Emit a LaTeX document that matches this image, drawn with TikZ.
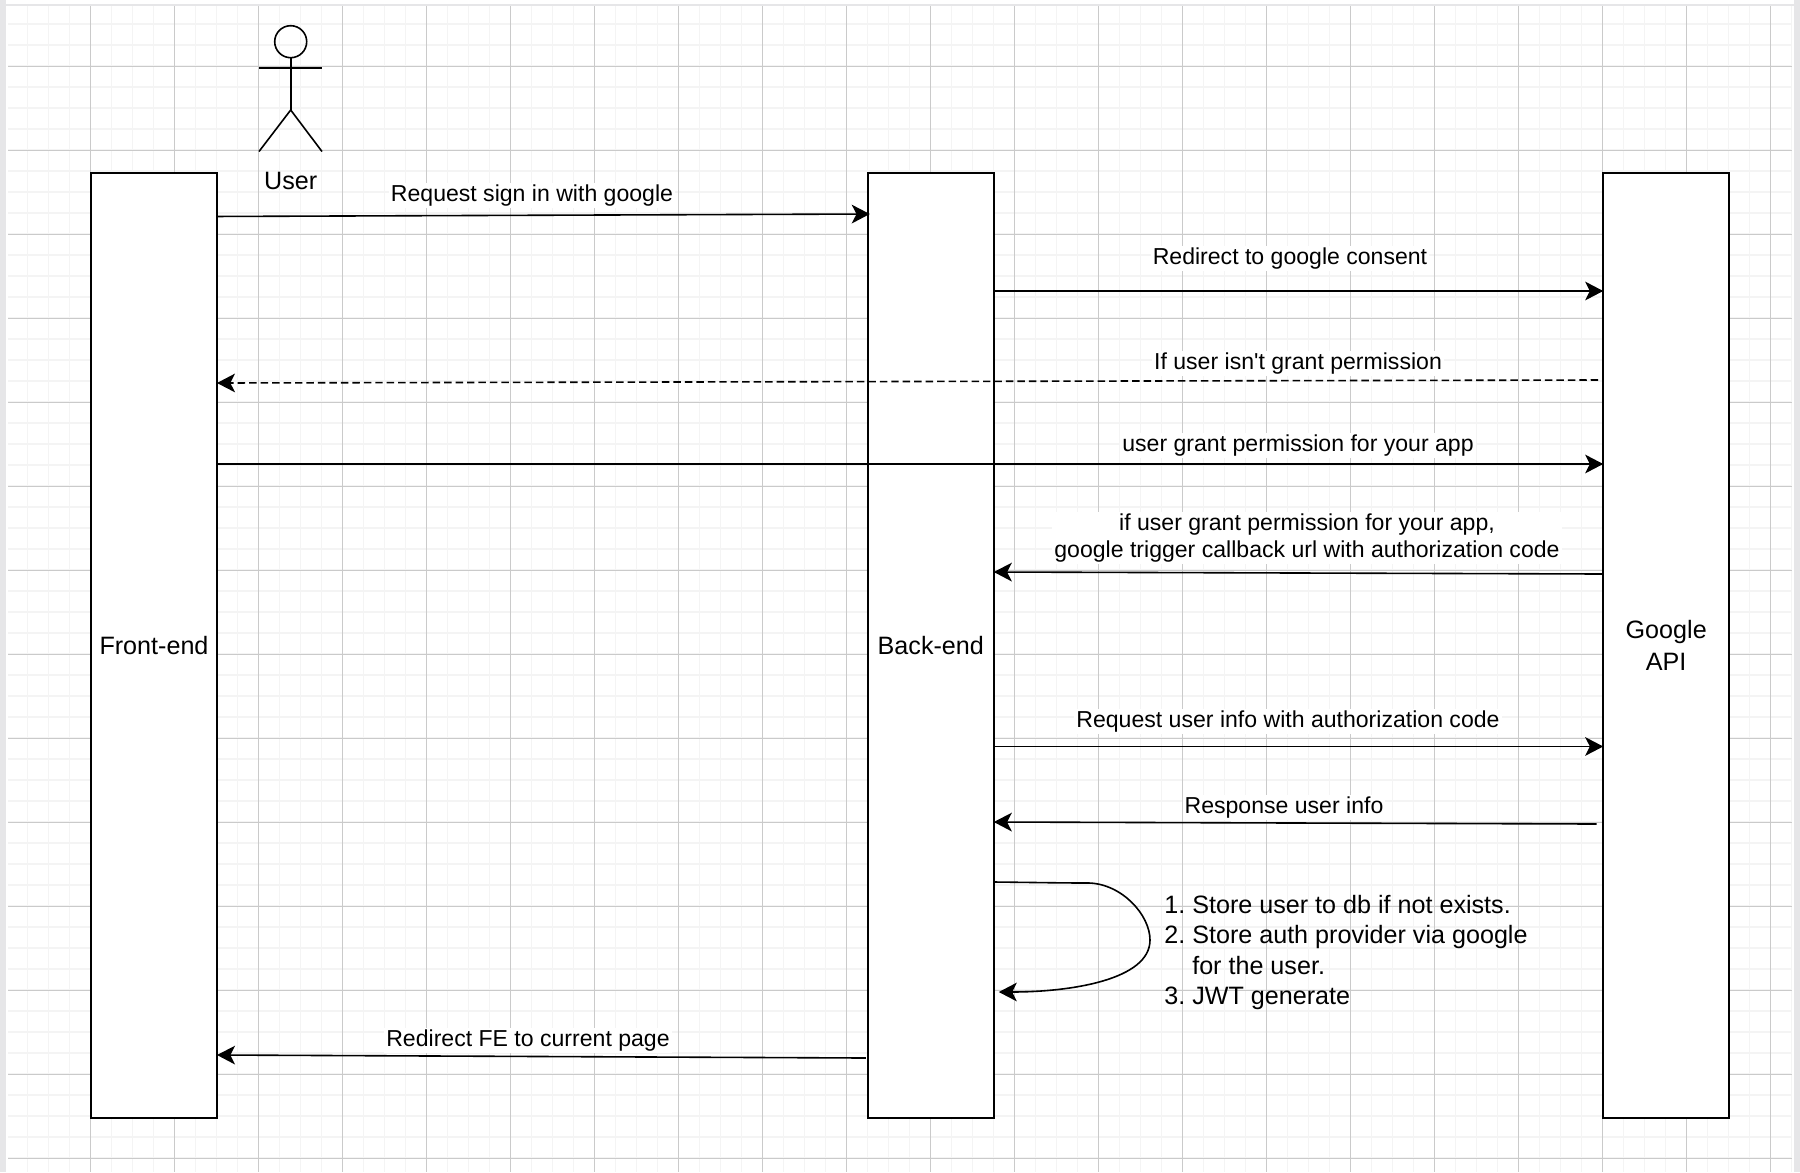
\documentclass[tikz,border=0pt]{standalone}
\usepackage{fontspec}
\setmainfont{Liberation Sans}
\usetikzlibrary{arrows.meta}

\definecolor{gridmajor}{RGB}{202,202,202}
\definecolor{gridminor}{RGB}{244,244,244}
\definecolor{pageedge}{RGB}{230,230,232}

\tikzset{
  lifebox/.style={draw=black,line width=1.25pt,fill=white,inner sep=0pt,outer sep=0pt,minimum width=94.5pt,minimum height=708.75pt,align=center,font=\fontsize{18.85}{23.8}\selectfont},
  flow/.style={draw=black,line width=1.2pt,-{Stealth[length=13.5pt,width=14pt,inset=3.5pt]}},
  flowdash/.style={flow,dash pattern=on 5.6pt off 3pt},
  flowlabel/.style={fill=white,inner sep=1.5pt,align=center,font=\fontsize{17.3}{20.3}\selectfont},
  notetext/.style={inner sep=0pt,align=left,font=\fontsize{18.85}{22.7}\selectfont},
  stickman/.style={draw=black,line width=1.2pt}
}

\begin{document}
\begin{tikzpicture}[x=0.75pt,y=0.75pt,yscale=-1,xscale=1]
        \useasboundingbox (0,0) rectangle (1800,1172);
        
        %Shape: Grid, minor lines
        \foreach \gx in {27.5,48.5,...,1791.5} \draw [gridminor,line width=1.1pt] (\gx,6) -- (\gx,1172);
        \foreach \gy in {24,45,...,1172} \draw [gridminor,line width=1.1pt] (8,\gy) -- (1792,\gy);
        %Shape: Grid, major lines
        \foreach \gx in {90.5,174.5,...,1770.5} \draw [gridmajor,line width=0.75pt] (\gx,6) -- (\gx,1172);
        \foreach \gy in {66,150,...,1158} \draw [gridmajor,line width=0.75pt] (8,\gy) -- (1792,\gy);
        %Shape: Page edges
        \fill [pageedge] (0,4) rectangle (1800,6);
        \fill [pageedge] (0,0) rectangle (5.5,1172);
        \fill [pageedge] (1794,0) rectangle (1800,1172);
        
        %Shape: Actor
        \draw [stickman] (290.7,41.7) circle (16);
        \draw [stickman] (290.7,57.7) -- (290.7,110);
        \draw [stickman] (259,68) -- (322,68);
        \draw [stickman] (259,151.5) -- (290.7,110) -- (322,151.5);
        % Text Node
        \node (userlabel) at (290.7,181) [inner sep=0pt,font=\fontsize{18.85}{23.8}\selectfont] {User};
        
        %Shape: Rectangle
        \node (frontend) at (154,645.5) [lifebox] {Front-end};
        \node (backend) at (930.8,645.5) [lifebox] {Back-end};
        \node (googleapi) at (1666.2,645.5) [lifebox] {Google\\API};
        
        %Straight Lines
        \draw [flow] ([yshift=32.6pt]frontend.north east) -- ([xshift=1.5pt,yshift=30.75pt]backend.north west);
        \draw [flow] ([yshift=88.5pt]backend.north east) -- ([yshift=88.5pt]googleapi.north west);
        \draw [flowdash] ([xshift=-3.75pt,yshift=155.25pt]googleapi.north west) -- ([yshift=157.5pt]frontend.north east);
        \draw [flow] ([yshift=218.25pt]frontend.north east) -- ([yshift=218.25pt]googleapi.north west);
        \draw [flow] ([yshift=300.75pt]googleapi.north west) -- ([yshift=299.25pt]backend.north east);
        \draw [flow] ([yshift=430.1pt]backend.north east) -- ([yshift=430.1pt]googleapi.north west);
        \draw [flow] ([xshift=-5pt,yshift=488.25pt]googleapi.north west) -- ([yshift=486.75pt]backend.north east);
        \draw [flow] ([xshift=-1.5pt,yshift=663.75pt]backend.north west) -- ([yshift=661.5pt]frontend.north east);
        
        %Curve Lines
        \coordinate (loopbend) at (1150,940);
        \draw [flow] ([yshift=531.75pt]backend.north east) .. controls (1040,882.5) and (1060,883) .. (1089,883) .. controls (1122,884) and (1150,915) .. (loopbend) .. controls (1150,980) and (1070,992) .. ([xshift=3.75pt,yshift=614.25pt]backend.north east);
        
        % Text Node
        \node (reqlabel) at (532,195.3) [flowlabel] {Request sign in with google};
        % Text Node
        \node (consentlabel) at (1290,258.3) [flowlabel] {Redirect to google consent};
        % Text Node
        \node (denylabel) at (1298,363.3) [flowlabel] {If user isn\textquotesingle t grant permission};
        % Text Node
        \node (grantlabel) at (1298,445.3) [flowlabel] {user grant permission for your app};
        % Text Node
        \node (callbacklabel) at (1307,538) [flowlabel] {if user grant permission for your app,\\google trigger callback url with authorization code};
        % Text Node
        \node (infolabel) at (1288,721.3) [flowlabel] {Request user info with authorization code};
        % Text Node
        \node (resplabel) at (1284,807.3) [flowlabel] {Response user info};
        % Text Node
        \node (redirectlabel) at (528,1040.3) [flowlabel] {Redirect FE to current page};
        % Text Node
        \node (storenote) at (1164,895) [notetext,anchor=north west] {\makebox[21pt][l]{1.}Store user to db if not exists.\\\makebox[21pt][l]{2.}Store auth provider via google\\\makebox[21pt][l]{}for the user.\\\makebox[21pt][l]{3.}JWT generate};
        
\end{tikzpicture}
\end{document}
